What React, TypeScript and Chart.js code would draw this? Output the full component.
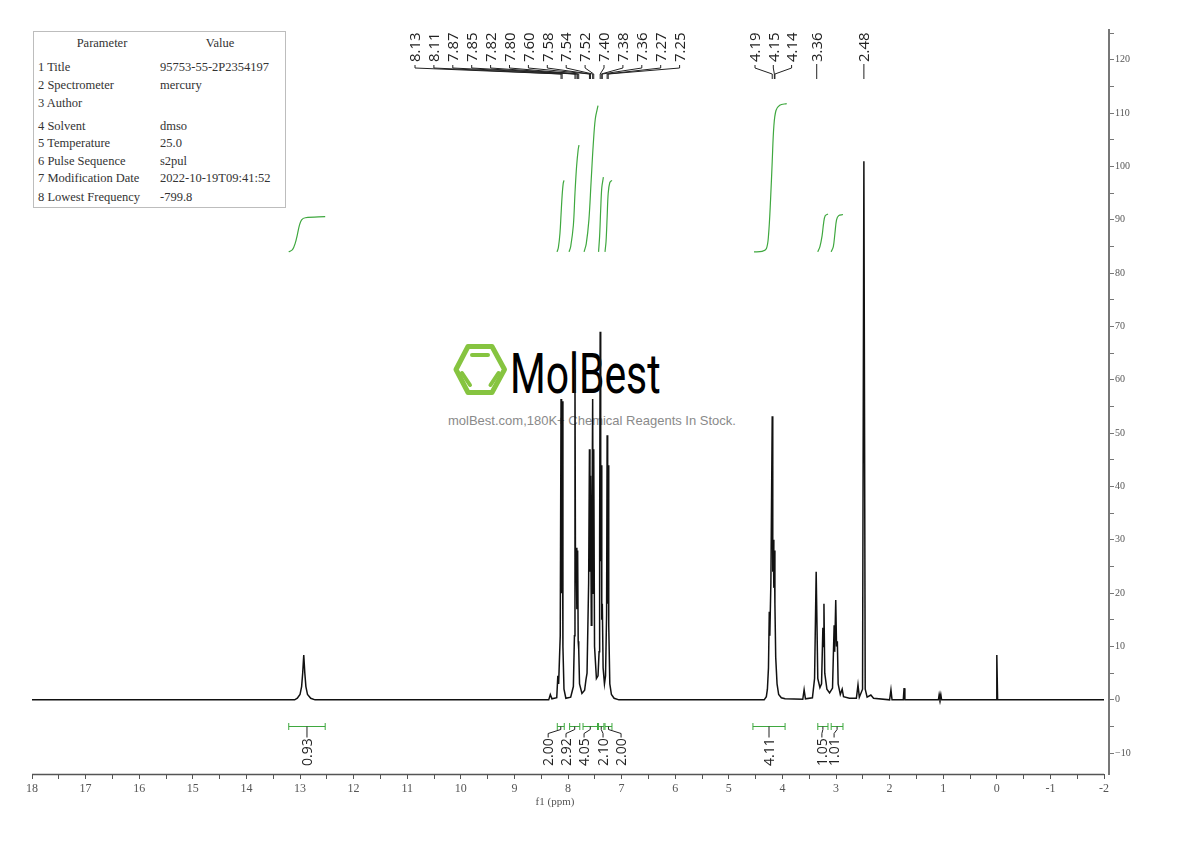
import React, { useEffect, useRef } from 'react';
import Chart from 'chart.js/auto';

// ---------- spectrum (ppm, intensity) ----------
const specPpm = [
  18.0, 13.1, 13.05, 13.0, 12.97, 12.95, 12.93, 12.91, 12.89, 12.86, 12.8, 12.72,
  8.36, 8.33, 8.3, 8.21, 8.19, 8.175, 8.145, 8.13, 8.12, 8.11, 8.095, 8.075, 8.04,
  7.95, 7.9, 7.88, 7.87, 7.86, 7.85, 7.835, 7.82, 7.81, 7.8, 7.785, 7.74, 7.69, 7.665, 7.645,
  7.615, 7.6, 7.59, 7.58, 7.565, 7.555, 7.54, 7.53, 7.52, 7.505, 7.47, 7.44, 7.42, 7.41,
  7.4, 7.39, 7.38, 7.37, 7.36, 7.345, 7.32, 7.3, 7.28, 7.27, 7.26, 7.25, 7.24, 7.22, 7.19,
  7.14, 7.05,
  4.34, 4.3, 4.28, 4.26, 4.245, 4.235, 4.215, 4.19, 4.18, 4.17, 4.16, 4.15, 4.14, 4.125,
  4.1, 4.07, 4.02, 3.95, 3.62, 3.595, 3.57, 3.44, 3.4, 3.37, 3.34, 3.3, 3.27, 3.245, 3.235,
  3.225, 3.21, 3.17, 3.12, 3.065, 3.035, 3.025, 3.005, 2.99, 2.975, 2.96, 2.92, 2.885, 2.86,
  2.75, 2.62, 2.59, 2.565, 2.505, 2.48, 2.455, 2.42, 2.35, 2.3, 2.0, 1.975, 1.955, 1.745,
  1.73, 1.715, 1.09, 1.075, 1.06, 1.045, 1.03, 0.015, 0.0, -0.015, -2.0,
];
const specInt = [
  0, 0, 0.3, 1.0, 2.5, 5.0, 8.4, 5.0, 2.5, 1.0, 0.3, 0,
  0, 1.0, 0.2, 0.4, 4.5, 3, 12, 56.4, 20, 56, 10, 2, 0.3,
  0.5, 2.5, 12, 62, 22, 28.5, 17, 28, 11, 9.5, 3, 1.2, 1.8, 3.8, 5,
  22, 47, 24, 42, 14, 28, 56.4, 20, 47, 10, 4, 4.5, 9, 30,
  69, 26, 44, 15, 18, 6, 3, 4.5, 16, 49.6, 18, 44, 14, 3, 1,
  0.3, 0,
  0, 0.6, 2, 6, 16.5, 12, 22, 53.2, 24, 30, 21, 28, 18, 8,
  3, 1, 0.4, 0.2, 0.1, 1.9, 0.2, 0.4, 4, 24, 4, 2.3, 3, 13.5, 10,
  18, 5, 2, 1.3, 2.2, 14, 9, 18.7, 10, 11, 3, 1, 2, 0.6,
  0.3, 0.3, 2.8, 0.5, 2, 101, 2, 0.5, 0.9, 0.3, 0, 1.9, 0, 0,
  2.2, 0, 0, 1.0, 0.3, 1.0, 0, 0, 8.4, 0, 0,
];

// ---------- peak labels ----------
const peakPpm = [8.13, 8.11, 7.87, 7.85, 7.82, 7.8, 7.6, 7.58, 7.54, 7.52, 7.4, 7.38, 7.36, 7.27, 7.25, 4.19, 4.15, 4.14, 3.36, 2.48];
const peakLabels = ['8.13', '8.11', '7.87', '7.85', '7.82', '7.80', '7.60', '7.58', '7.54', '7.52', '7.40', '7.38', '7.36', '7.27', '7.25', '4.19', '4.15', '4.14', '3.36', '2.48'];

// ---------- integrals ----------
const intFrom = [13.21, 8.2, 7.97, 7.72, 7.43, 7.31, 4.55, 3.34, 3.09];
const intTo = [12.53, 8.07, 7.78, 7.45, 7.33, 7.18, 3.95, 3.15, 2.87];
const intLabels = ['0.93', '2.00', '2.92', '4.05', '2.10', '2.00', '4.11', '1.05', '1.01'];

// integral curves (ppm, running integral on intensity scale)
const curveAPpm = [13.21, 13.14, 13.09, 13.05, 13.01, 12.97, 12.9, 12.53];
const curveAVal = [84.0, 84.4, 85.6, 87.2, 89.0, 90.0, 90.4, 90.6];
const curveB1Ppm = [8.205, 8.18, 8.15, 8.13, 8.11, 8.09, 8.075];
const curveB1Val = [84.0, 84.8, 87.5, 91.0, 94.5, 96.8, 97.4];
const curveB2Ppm = [7.98, 7.95, 7.9, 7.87, 7.84, 7.81, 7.795];
const curveB2Val = [84.0, 85.0, 89.0, 95.0, 100.0, 103.2, 104.0];
const curveB3Ppm = [7.7, 7.66, 7.61, 7.57, 7.53, 7.49, 7.44];
const curveB3Val = [84.0, 85.5, 90.0, 97.0, 104.0, 109.0, 111.4];
const curveB4Ppm = [7.43, 7.41, 7.39, 7.37, 7.34];
const curveB4Val = [84.0, 87.0, 92.0, 96.0, 98.0];
const curveB5Ppm = [7.31, 7.29, 7.27, 7.25, 7.22, 7.18];
const curveB5Val = [84.0, 86.0, 90.5, 95.0, 97.0, 97.4];
const curveCPpm = [4.53, 4.38, 4.3, 4.26, 4.22, 4.19, 4.16, 4.12, 4.05, 3.92];
const curveCVal = [84.0, 84.1, 84.6, 87.0, 94.0, 101.0, 107.5, 110.5, 111.5, 111.8];
const curveDPpm = [3.34, 3.3, 3.26, 3.23, 3.2, 3.15];
const curveDVal = [84.0, 85.0, 87.0, 89.5, 90.8, 91.1];
const curveEPpm = [3.09, 3.05, 3.02, 2.99, 2.95, 2.87];
const curveEVal = [84.0, 85.0, 87.5, 90.0, 90.8, 91.0];

const integralCurves = [
  [curveAPpm, curveAVal], [curveB1Ppm, curveB1Val], [curveB2Ppm, curveB2Val],
  [curveB3Ppm, curveB3Val], [curveB4Ppm, curveB4Val], [curveB5Ppm, curveB5Val],
  [curveCPpm, curveCVal], [curveDPpm, curveDVal], [curveEPpm, curveEVal],
];

// ---------- axes ----------
const xMax = 18;
const xMin = -2.093;
const yMin = -13.9;
const yMax = 125.6;

// ---------- parameter table ----------
const paramNames = ['1 Title', '2 Spectrometer', '3 Author', '4 Solvent', '5 Temperature', '6 Pulse Sequence', '7 Modification Date', '8 Lowest Frequency'];
const paramValues = ['95753-55-2P2354197', 'mercury', '', 'dmso', '25.0', 's2pul', '2022-10-19T09:41:52', '-799.8'];

const GREEN = '#3fa83f';

// layout of label groups (pixels)
const LABEL_GROUPS = [
  { first: 0, last: 14, x0: 415, dx: 18.9 },
  { first: 15, last: 17, x0: 755, dx: 18.3 },
  { first: 18, last: 18, x0: null as number | null, dx: 0 },
  { first: 19, last: 19, x0: null as number | null, dx: 0 },
];
const INT_LABEL_SHIFT = [0, -12.6, -8.7, -6.2, 1.8, 12.6, 0, -1, -3];

const annotPlugin = {
  id: 'nmrAnnot',
  afterDatasetsDraw(chart: any) {
    const { ctx, chartArea } = chart;
    const xs = chart.scales.x;
    const ys = chart.scales.y;
    ctx.save();

    // x axis line from 18 to -2
    ctx.strokeStyle = '#555';
    ctx.lineWidth = 1.5;
    ctx.beginPath();
    ctx.moveTo(xs.getPixelForValue(18), chartArea.bottom + 0.5);
    ctx.lineTo(xs.getPixelForValue(-2), chartArea.bottom + 0.5);
    ctx.stroke();

    // peak labels
    ctx.font = '15px "Open Sans"';
    ctx.fillStyle = '#222';
    ctx.strokeStyle = '#222';
    ctx.lineWidth = 1;
    const textBottom = 62;
    LABEL_GROUPS.forEach((g) => {
      for (let i = g.first; i <= g.last; i++) {
        const px = xs.getPixelForValue(peakPpm[i]);
        const lx = g.x0 == null ? px : g.x0 + (i - g.first) * g.dx;
        ctx.save();
        ctx.translate(lx, textBottom);
        ctx.rotate(-Math.PI / 2);
        ctx.textAlign = 'left';
        ctx.textBaseline = 'middle';
        ctx.fillText(peakLabels[i], 0, 1);
        ctx.restore();
        ctx.beginPath();
        if (g.x0 == null) {
          ctx.moveTo(lx, textBottom + 2);
          ctx.lineTo(px, 79);
        } else {
          ctx.moveTo(lx, textBottom + 3);
          ctx.lineTo(lx, textBottom + 6);
          ctx.lineTo(px, 74);
          ctx.lineTo(px, 79);
        }
        ctx.stroke();
      }
    });

    // integral brackets
    const by = Math.round(ys.getPixelForValue(-4.9)) + 0.5;
    const labelBottom = ys.getPixelForValue(-12.4);
    for (let i = 0; i < intFrom.length; i++) {
      const a = xs.getPixelForValue(intFrom[i]);
      const b = xs.getPixelForValue(intTo[i]);
      const mid = (a + b) / 2;
      const lx = mid + INT_LABEL_SHIFT[i];
      ctx.strokeStyle = GREEN;
      ctx.lineWidth = 1;
      ctx.beginPath();
      ctx.moveTo(a, by);
      ctx.lineTo(b, by);
      ctx.moveTo(a, by - 3.5);
      ctx.lineTo(a, by + 3.5);
      ctx.moveTo(b, by - 3.5);
      ctx.lineTo(b, by + 3.5);
      ctx.stroke();
      ctx.strokeStyle = '#222';
      ctx.beginPath();
      ctx.moveTo(mid, by);
      if (Math.abs(lx - mid) < 0.5) {
        ctx.lineTo(mid, by + 11);
      } else {
        ctx.lineTo(mid, by + 3);
        ctx.lineTo(lx, by + 7);
        ctx.lineTo(lx, by + 11);
      }
      ctx.stroke();
      ctx.save();
      ctx.translate(lx, labelBottom);
      ctx.rotate(-Math.PI / 2);
      ctx.font = '14px "Open Sans"';
      ctx.fillStyle = '#222';
      ctx.textAlign = 'left';
      ctx.textBaseline = 'middle';
      ctx.fillText(intLabels[i], 0, 1);
      ctx.restore();
    }
    ctx.restore();
  },
};

export default function App() {
  const canvasRef = useRef<HTMLCanvasElement | null>(null);

  useEffect(() => {
    if (!canvasRef.current) return;
    const spectrum = specPpm.map((p, i) => ({ x: p, y: specInt[i] }));
    const curveSets = integralCurves.map(([pp, vv]) => ({
      data: pp.map((p, i) => ({ x: p, y: vv[i] })),
      showLine: true,
      borderColor: GREEN,
      borderWidth: 1.2,
      pointRadius: 0,
      tension: 0.35,
    }));
    const chart = new Chart(canvasRef.current, {
      type: 'scatter',
      data: {
        datasets: [
          {
            data: spectrum,
            showLine: true,
            borderColor: '#111',
            borderWidth: 1.5,
            pointRadius: 0,
            tension: 0,
          },
          ...curveSets,
        ],
      },
      options: {
        animation: false,
        responsive: true,
        maintainAspectRatio: false,
        layout: { padding: { left: 32, top: 30, right: 0, bottom: 0 } },
        plugins: { legend: { display: false }, tooltip: { enabled: false }, title: { display: false } },
        scales: {
          x: {
            type: 'linear',
            reverse: true,
            min: xMin,
            max: xMax,
            afterFit: (s: any) => { s.height = 67; },
            border: { display: false },
            grid: { drawOnChartArea: false, drawTicks: true, tickLength: 5, color: '#555', lineWidth: 1 },
            ticks: {
              stepSize: 0.5,
              includeBounds: false,
              autoSkip: false,
              maxRotation: 0,
              padding: 3,
              color: '#555',
              font: { family: '"Liberation Serif", serif', size: 12 },
              callback: (v: any) => (Math.abs(v - Math.round(v)) < 1e-6 ? String(Math.round(v)) : ''),
            },
          },
          y: {
            type: 'linear',
            position: 'right',
            min: yMin,
            max: yMax,
            afterFit: (s: any) => { s.width = 81; },
            border: { display: true, color: '#777', width: 2 },
            grid: { drawOnChartArea: false, drawTicks: true, tickLength: 5, color: '#777', lineWidth: 1 },
            ticks: {
              stepSize: 5,
              includeBounds: false,
              autoSkip: false,
              padding: 1,
              color: '#555',
              font: { family: '"Liberation Serif", serif', size: 10 },
              callback: (v: any) => {
                const r = Math.round(v);
                if (Math.abs(v - r) > 1e-6 || r % 10 !== 0) return '';
                return r < 0 ? '\u2212' + String(-r) : String(r);
              },
            },
          },
        },
      },
      plugins: [annotPlugin],
    });
    return () => chart.destroy();
  }, []);

  const rowY = [66.7, 85, 102.7, 125.7, 143.3, 161, 178.3, 196.7];
  const tableFont: React.CSSProperties = {
    position: 'absolute',
    fontFamily: '"Liberation Serif", serif',
    fontSize: 12.5,
    color: '#333',
    lineHeight: '16px',
    whiteSpace: 'nowrap',
  };

  return (
    <div style={{ position: 'absolute', left: 0, top: 0, width: 1190, height: 841, background: '#fff', overflow: 'hidden' }}>
      {/* watermark */}
      <svg style={{ position: 'absolute', left: 450, top: 341 }} width={60} height={58}>
        <polygon points="6,28.5 18,5.5 42,5.5 54.5,28.5 42,51.5 18,51.5" fill="none" stroke="#86c440" strokeWidth={5} strokeLinejoin="round" />
        <line x1={22} y1={14} x2={38} y2={14} stroke="#86c440" strokeWidth={4} strokeLinecap="round" />
        <line x1={12} y1={32} x2={20} y2={44} stroke="#86c440" strokeWidth={4} strokeLinecap="round" />
        <line x1={48.5} y1={32} x2={40.5} y2={44} stroke="#86c440" strokeWidth={4} strokeLinecap="round" />
      </svg>
      <div
        style={{
          position: 'absolute', left: 510, top: 345.7, fontFamily: 'Roboto, sans-serif', fontSize: 56,
          lineHeight: '56px', color: '#000', transform: 'scaleX(0.73)', transformOrigin: 'left top', whiteSpace: 'nowrap',
        }}
      >
        MolBest
      </div>
      <div
        style={{
          position: 'absolute', left: 448, top: 413, fontFamily: '"Liberation Sans", Arial, sans-serif', fontSize: 13,
          lineHeight: '16px', color: '#8a8a8a', whiteSpace: 'nowrap',
        }}
      >
        molBest.com,180K+ Chemical Reagents In Stock.
      </div>

      {/* parameter table */}
      <div style={{ position: 'absolute', left: 33, top: 31, width: 253, height: 177, border: '1px solid #bdbdbd', boxSizing: 'border-box' }} />
      <div style={{ ...tableFont, left: 40, top: 35, width: 124, textAlign: 'center' }}>Parameter</div>
      <div style={{ ...tableFont, left: 160, top: 35, width: 120, textAlign: 'center' }}>Value</div>
      {paramNames.map((n, i) => (
        <div key={'n' + i} style={{ ...tableFont, left: 38, top: rowY[i] - 8 }}>{n}</div>
      ))}
      {paramValues.map((v, i) => (
        <div key={'v' + i} style={{ ...tableFont, left: 160, top: rowY[i] - 8 }}>{v}</div>
      ))}

      <div style={{ position: 'absolute', left: 0, top: 0, width: 1190, height: 841 }}>
        <canvas ref={canvasRef} />
      </div>

      <div
        style={{
          position: 'absolute', left: 500, top: 794, width: 110, textAlign: 'center', fontFamily: '"Liberation Serif", serif',
          fontSize: 11, color: '#555', lineHeight: '14px',
        }}
      >
        f1 (ppm)
      </div>
    </div>
  );
}
